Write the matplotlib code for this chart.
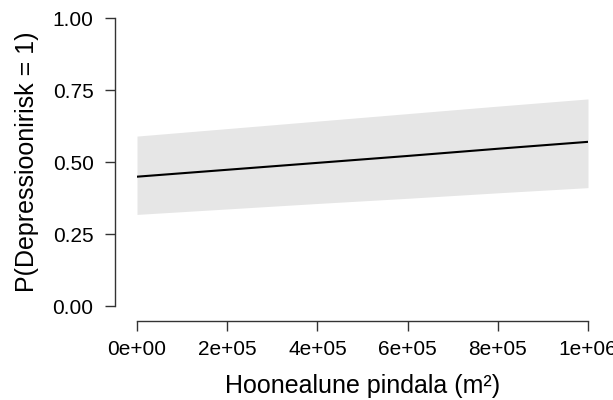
import matplotlib
matplotlib.use("Agg")
import matplotlib.pyplot as plt
from matplotlib.ticker import FixedLocator

plt.rcParams['font.family'] = ['Liberation Sans', 'DejaVu Sans']

# predicted probability and 95% band
area = [0, 2e5, 4e5, 6e5, 8e5, 1e6]
prob = [0.449, 0.473, 0.497, 0.521, 0.546, 0.570]
lower = [0.318, 0.337, 0.356, 0.374, 0.393, 0.411]
upper = [0.590, 0.616, 0.642, 0.668, 0.694, 0.719]

x_ticks = [0, 2e5, 4e5, 6e5, 8e5, 1e6]
x_labels = ["0e+00", "2e+05", "4e+05", "6e+05", "8e+05", "1e+06"]
y_ticks = [0.0, 0.25, 0.5, 0.75, 1.0]
y_labels = ["0.00", "0.25", "0.50", "0.75", "1.00"]

fig = plt.figure(figsize=(6.13, 4.0), dpi=100)
ax = fig.add_axes([137 / 613, 94 / 400, 451 / 613, 288 / 400])

ax.fill_between(area, lower, upper, color="#e6e6e6", lw=0)
ax.plot(area, prob, color="black", lw=1.5)

ax.set_xlim(0, 1e6)
ax.set_ylim(0, 1)

for side in ("top", "right"):
    ax.spines[side].set_visible(False)
ax.spines["left"].set_position(("outward", 15.8))
ax.spines["bottom"].set_position(("outward", 10.8))
ax.spines["left"].set_bounds(0, 1)
ax.spines["bottom"].set_bounds(0, 1e6)
for side in ("left", "bottom"):
    ax.spines[side].set_color("#333333")
    ax.spines[side].set_linewidth(1.0)

ax.xaxis.set_major_locator(FixedLocator(x_ticks))
ax.set_xticklabels(x_labels)
ax.yaxis.set_major_locator(FixedLocator(y_ticks))
ax.set_yticklabels(y_labels)
ax.tick_params(axis="both", length=7.5, width=1.0, color="#333333",
               labelsize=15)
ax.tick_params(axis="y", pad=8)
ax.tick_params(axis="x", pad=6)

ax.set_xlabel("Hoonealune pindala (m²)", fontsize=18, labelpad=11)
ax.set_ylabel("P(Depressioonirisk = 1)", fontsize=18, labelpad=10)

fig.savefig("out.png", dpi=100)
